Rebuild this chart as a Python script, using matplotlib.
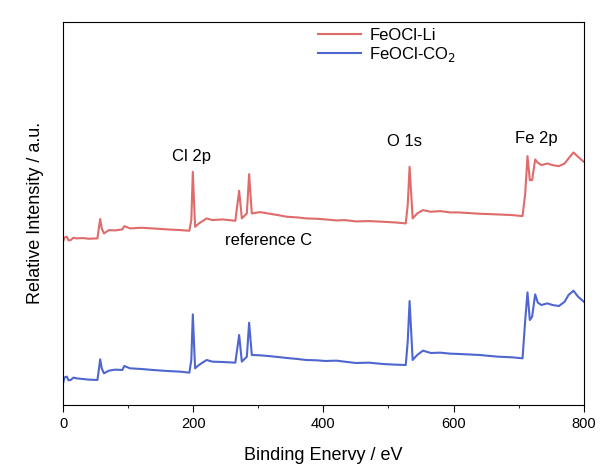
import matplotlib
matplotlib.use("Agg")
import matplotlib.pyplot as plt
import numpy as np

# binding energy (eV) of the traced points
energy = [0, 2.5, 5.9, 8.5, 11.8, 16.0, 20.6, 30.0, 40.0, 52.9, 55.0, 57.1, 59.5,
          62.9, 70.6, 80.0, 91.2, 94.1, 102.9, 120.0, 138.2, 160.0, 180.0,
          194.1, 197.1, 199.4, 202.9, 208.8, 220.6, 229.4, 245.0, 264.7, 270.6,
          274.7, 282.4, 285.9, 290.0, 302.9, 314.7, 330.0, 344.1, 360.0, 373.5,
          390.0, 402.9, 420.0, 432.4, 450.0, 470.0, 491.2, 510.0, 526.5, 529.5,
          532.4, 537.1, 544.1, 552.9, 565.0, 579.4, 595.0, 608.8, 640.0, 667.6,
          690.0, 705.9, 710.0, 713.5, 717.1, 720.6, 725.3, 729.4, 735.0, 744.1,
          752.0, 761.8, 770.6, 776.5, 784.1, 791.2, 800.0]

# intensity (a.u.), FeOCl-Li
li = [49.0, 50.3, 50.5, 49.4, 49.5, 50.2, 50.0, 50.1, 49.9, 50.0, 53.0, 55.8, 53.0,
      51.5, 52.5, 52.4, 52.7, 53.7, 53.0, 53.2, 53.0, 52.7, 52.5,
      52.3, 55.5, 70.0, 53.5, 54.5, 56.0, 55.5, 55.7, 55.3, 64.3,
      56.0, 57.5, 69.3, 57.5, 57.9, 57.5, 57.0, 56.5, 56.3, 56.0,
      55.9, 55.7, 55.4, 55.5, 55.1, 55.2, 55.0, 54.8, 54.5, 60.0,
      71.5, 56.0, 57.5, 58.5, 58.0, 58.2, 57.8, 57.8, 57.4, 57.2,
      57.0, 56.7, 63.5, 74.7, 67.5, 67.5, 73.7, 72.7, 72.0, 72.5,
      72.0, 71.7, 72.5, 74.0, 75.8, 74.5, 73.0]

# intensity (a.u.), FeOCl-CO2
co2 = [6.5, 8.3, 8.5, 7.4, 7.5, 8.2, 8.0, 7.8, 7.6, 7.5, 10.5, 13.7, 11.0,
       9.5, 10.3, 10.6, 10.5, 11.7, 11.0, 10.8, 10.5, 10.2, 10.0,
       9.7, 13.5, 27.2, 11.0, 12.0, 13.5, 13.0, 12.9, 12.7, 21.0,
       13.0, 14.5, 24.7, 15.0, 14.9, 14.7, 14.4, 14.1, 13.8, 13.5,
       13.4, 13.2, 13.3, 13.0, 12.6, 12.7, 12.3, 12.1, 12.0, 19.0,
       31.2, 13.5, 15.0, 16.3, 15.6, 15.7, 15.4, 15.3, 15.0, 14.5,
       14.3, 14.0, 25.5, 33.8, 25.5, 26.5, 33.2, 30.7, 30.0, 30.5,
       30.0, 29.7, 31.0, 33.0, 34.3, 32.5, 31.0]

peak_labels = ['Cl 2p', 'reference C', 'O 1s', 'Fe 2p']
peak_x = [197, 316, 525, 727]
peak_y = [74.5, 49.3, 79.2, 80.0]

plt.rcParams['font.family'] = ['Liberation Sans', 'DejaVu Sans']

fig = plt.figure(figsize=(6, 4.66), dpi=100)
ax = fig.add_axes([0.105, 0.131, 0.868, 0.822])

ax.plot(energy, li, color='#e06b6b', lw=1.5, label='FeOCl-Li')
ax.plot(energy, co2, color='#4f66d0', lw=1.5, label='FeOCl-CO$_2$')

for lab, x, y in zip(peak_labels, peak_x, peak_y):
    ax.text(x, y, lab, fontsize=12, ha='center', va='center')

ax.set_xlim(0, 800)
ax.set_ylim(0, 115)
ax.set_xticks(np.arange(0, 801, 200))
ax.set_xticks(np.arange(100, 800, 200), minor=True)
ax.set_yticks([])
ax.tick_params(axis='x', labelsize=10.5, length=5, direction='out')
ax.tick_params(axis='x', which='minor', length=2.5)

ax.set_xlabel('Binding Enervy / eV', fontsize=13, labelpad=12)
ax.set_ylabel('Relative Intensity / a.u.', fontsize=13, labelpad=14)

ax.legend(loc='upper left', bbox_to_anchor=(0.47, 1.011), frameon=False,
          fontsize=12, handlelength=2.6, handletextpad=0.5,
          labelspacing=0.15, borderpad=0.1)

fig.savefig('out.png', dpi=100)
